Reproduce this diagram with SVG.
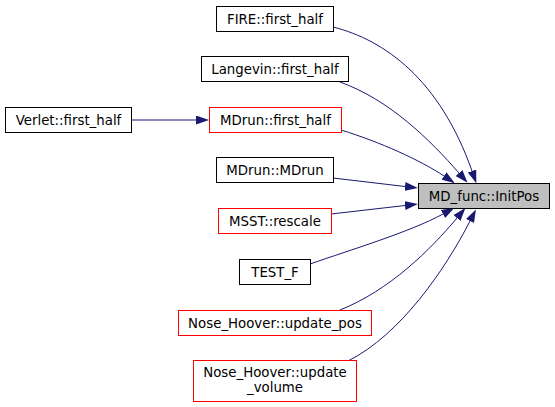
<svg xmlns="http://www.w3.org/2000/svg" width="555" height="407" viewBox="0 0 555 407">
<style>
.n rect{fill:#fff;stroke:#000;stroke-width:1}
.n.r rect{stroke:#ff0000}
.n.t rect{fill:#bfbfbf}
.n text{font-family:"DejaVu Sans",sans-serif;font-size:13.33px;text-anchor:middle;fill:#000}
.e path{fill:none;stroke:#191970;stroke-width:1}
</style>
<defs>
<marker id="a" markerUnits="userSpaceOnUse" viewBox="0 0 13 9" refX="0" refY="4.5" markerWidth="13" markerHeight="9" orient="auto">
<path d="M0,0 L13,4.5 L0,9 z" fill="#191970"/>
</marker>
</defs>
<g id="edges" class="e">
<path d="M333,27 C385,40 440,80 472,171" marker-end="url(#a)"/>
<path d="M340,82 C390,100 430,140 459,173" marker-end="url(#a)"/>
<path d="M131,120 L196,120" marker-end="url(#a)"/>
<path d="M341,130 C380,142 420,160 444,176" marker-end="url(#a)"/>
<path d="M333,178 L405,186.5" marker-end="url(#a)"/>
<path d="M331,214 L405,205.5" marker-end="url(#a)"/>
<path d="M310,264 C350,250 410,232 443,214" marker-end="url(#a)"/>
<path d="M340,310 C390,290 430,250 457,218" marker-end="url(#a)"/>
<path d="M348,361 C400,335 445,270 470,221" marker-end="url(#a)"/>
</g>
<g id="n_initpos" class="n t"><rect x="418.5" y="183.5" width="131" height="25"/><text x="484" y="200.5">MD_func::InitPos</text></g>
<g id="n_fire" class="n"><rect x="216.5" y="6.5" width="117" height="25"/><text x="275" y="23.5">FIRE::first_half</text></g>
<g id="n_langevin" class="n"><rect x="201.5" y="56.5" width="147" height="25"/><text x="275" y="73.5">Langevin::first_half</text></g>
<g id="n_verlet" class="n"><rect x="5.5" y="107.5" width="126" height="25"/><text x="68.5" y="124.5">Verlet::first_half</text></g>
<g id="n_mdrunfh" class="n r"><rect x="209.5" y="107.5" width="132" height="25"/><text x="275.5" y="124.5">MDrun::first_half</text></g>
<g id="n_mdrun" class="n"><rect x="216.5" y="157.5" width="117" height="25"/><text x="275" y="174.5">MDrun::MDrun</text></g>
<g id="n_msst" class="n r"><rect x="218.5" y="208.5" width="113" height="25"/><text x="275" y="225.5">MSST::rescale</text></g>
<g id="n_test" class="n"><rect x="239.5" y="259.5" width="71" height="25"/><text x="275" y="276.5">TEST_F</text></g>
<g id="n_nhpos" class="n r"><rect x="178.5" y="310.5" width="193" height="25"/><text x="275" y="327.5">Nose_Hoover::update_pos</text></g>
<g id="n_nhvol" class="n r"><rect x="193.5" y="360.5" width="163" height="41"/><text x="275" y="377">Nose_Hoover::update</text><text x="275" y="392">_volume</text></g>
</svg>
